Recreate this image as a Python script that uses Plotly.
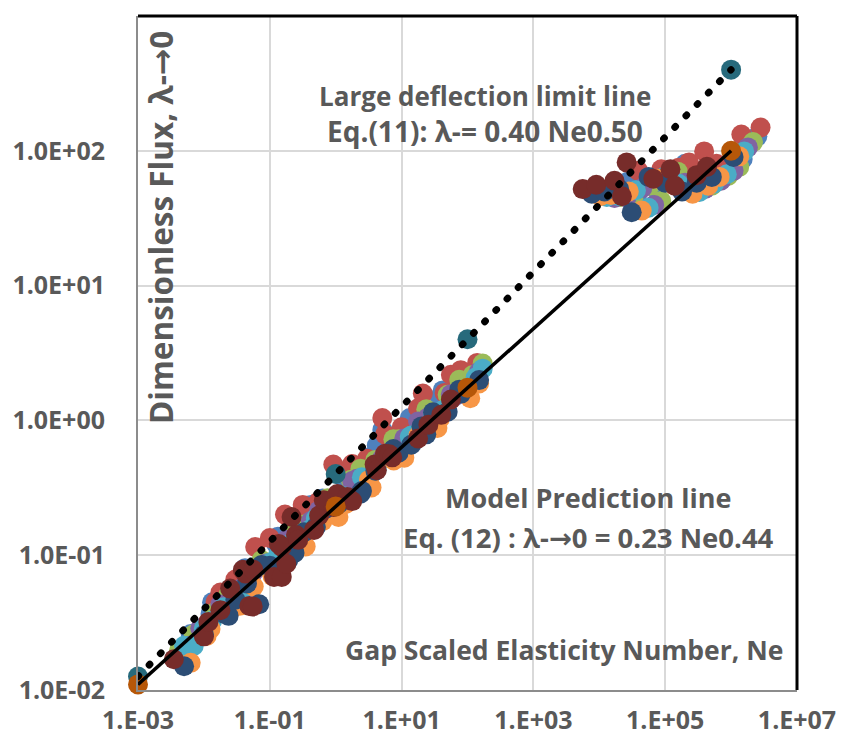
import plotly.graph_objects as go

# ---------------- data ----------------
blue_x = [6.3e-3, 1.26e-2, 1.33e-2, 2.5e-2, 4.2e-2, 5.7e-2, 0.126, 0.133, 0.28, 0.42, 0.63, 1.33, 1.4, 3.2, 4.2,
          5.1, 7.6, 13.3, 18, 38, 42, 100, 150,
          2.7e4, 4e4, 7.3e4, 1.1e5, 2.0e5, 3.5e5, 6.5e5, 1.1e6, 1.5e6, 2.5e6]
blue_y = [0.026, 0.0367, 0.0447, 0.0546, 0.080, 0.0814, 0.120, 0.137, 0.177, 0.236, 0.263, 0.378, 0.359, 0.533,
          0.651, 0.85, 0.728, 1.04, 1.02, 1.48, 1.67, 2.19, 2.51,
          59, 50, 52, 67, 80, 64, 62, 75, 87, 128]

red_x = [1.5e-2, 1.78e-2, 3e-2, 6e-2, 0.1, 0.17, 0.3, 0.316, 0.55, 0.92, 1.5, 1.78, 3, 5.1, 5.6, 10, 17.8, 21,
         45, 56, 79, 140,
         3.9e4, 8.7e4, 1.6e5, 2.3e5, 3.9e5, 6e5, 1.43e6, 2.8e6]
red_y = [0.045, 0.0528, 0.066, 0.115, 0.134, 0.20, 0.20, 0.236, 0.25, 0.47, 0.41, 0.474, 0.52, 1.04, 0.787, 0.89,
         1.23, 1.58, 1.6, 2.18, 2.36, 2.67,
         71, 73, 75, 82, 99, 80, 132, 149]

green_x = [4.2e-3, 7e-3, 1.5e-2, 2.37e-2, 3e-2, 7e-2, 7.5e-2, 0.15, 0.237, 0.33, 0.75, 0.75, 1.7, 2.37, 4, 7.5, 9,
           20, 23.7, 50, 75, 120, 170,
           2.1e4, 3.3e4, 5.8e4, 8.7e4, 1.55e5, 2.6e5, 5.1e5, 9e5, 1.33e6, 2.15e6]
green_y = [0.0197, 0.0259, 0.038, 0.0511, 0.0541, 0.0821, 0.092, 0.120, 0.159, 0.169, 0.254, 0.264, 0.363, 0.438,
           0.509, 0.725, 0.726, 0.988, 1.21, 1.55, 2.0, 2.17, 2.64,
           45.5, 45, 55, 42.5, 70, 60, 55, 65, 76, 116]

purple_x = [5.6e-3, 8.8e-3, 1.78e-2, 1.9e-2, 3.8e-2, 5.6e-2, 8.8e-2, 0.178, 0.19, 0.42, 0.56, 0.95, 1.78, 2.1, 5,
            5.6, 11, 17.8, 25, 56, 63, 150,
            1.7e4, 2.6e4, 4.5e4, 6.8e4, 1.2e5, 2e5, 4.0e5, 7e5, 1.09e6, 1.8e6]
purple_y = [0.0212, 0.0287, 0.043, 0.0421, 0.0572, 0.0746, 0.0869, 0.13, 0.121, 0.179, 0.215, 0.248, 0.355, 0.369,
            0.516, 0.566, 0.737, 0.98, 1.05, 1.56, 1.50, 2.30,
            44.7, 45, 53, 39.7, 66, 58, 52, 60, 71, 106]

aqua_x = [5e-3, 7e-3, 1e-2, 1.33e-2, 2e-2, 4.2e-2, 4.5e-2, 0.1, 0.133, 0.22, 0.42, 0.5, 1.1, 1.33, 2.5, 4.2, 6,
          13.3, 14, 30, 42, 80, 133, 170,
          1.3e4, 2e4, 3.6e4, 5.6e4, 9.6e4, 1.6e5, 3.3e5, 5.5e5, 8.6e5, 1.58e6]
aqua_y = [0.0213, 0.0212, 0.0287, 0.0327, 0.0411, 0.0572, 0.0588, 0.0878, 0.0995, 0.124, 0.157, 0.187, 0.252,
          0.274, 0.378, 0.434, 0.531, 0.755, 0.772, 1.13, 1.19, 1.66, 2.08, 2.42,
          45.5, 46, 51, 37.8, 64, 57, 49.5, 57, 67, 99]

orange_x = [6.3e-3, 1.1e-2, 1.26e-2, 2.5e-2, 3.5e-2, 5.7e-2, 0.11, 0.126, 0.28, 0.35, 0.63, 1.1, 1.4, 3.2, 3.5,
            7.6, 11, 18, 35, 38, 100, 110, 150,
            1.04e4, 1.5e4, 2.8e4, 4.4e4, 7.6e4, 1.3e5, 2.6e5, 4.5e5, 6.7e5, 1.33e6]
orange_y = [0.0159, 0.0252, 0.0284, 0.0387, 0.0421, 0.0586, 0.0698, 0.0786, 0.118, 0.116, 0.179, 0.192, 0.239,
            0.362, 0.318, 0.504, 0.529, 0.773, 0.88, 1.03, 1.66, 1.46, 1.88,
            46, 47, 50, 36, 62, 56, 48, 55, 64, 91]

navy_x = [5e-3, 1e-2, 2e-2, 2.37e-2, 3e-2, 4.5e-2, 6.9e-2, 7.5e-2, 0.1, 0.19, 0.237, 0.25, 0.33, 0.5, 0.7, 0.75,
          1.1, 1.7, 2.37, 2.5, 4, 7.5, 9, 14, 20, 23.7, 30, 50, 75, 80, 150,
          7.7e3, 1.2e4, 2.0e4, 3.1e4, 5.6e4, 1.0e5, 1.8e5, 3.0e5, 5.1e5, 1.09e6]
navy_y = [0.0150, 0.0257, 0.0370, 0.0355, 0.0467, 0.0617, 0.0433, 0.0846, 0.0836, 0.0913, 0.104, 0.13, 0.148,
          0.162, 0.22, 0.233, 0.240, 0.261, 0.286, 0.30, 0.424, 0.614, 0.575, 0.66, 0.902, 0.788, 1.15, 1.16,
          1.69, 1.58, 1.99,
          48, 50, 52, 35, 64, 58, 50, 58, 64, 90]

maroon_x = [3.5e-3, 1e-2, 1.17e-2, 1.78e-2, 2.5e-2, 3.9e-2, 4.3e-2, 4.9e-2, 5.5e-2, 5.6e-2, 0.116, 0.137, 0.152,
            0.152, 0.178, 0.214, 0.25, 0.27, 0.47, 0.56, 0.66, 0.93, 1.06, 1.5, 1.78, 3.9, 4.2, 5.6, 6.5, 7.2,
            17.8, 25.5, 40, 56,
            5.6e3, 9e3, 1.7e4, 2.2e4, 2.6e4, 6.6e4, 1.2e5, 1.4e5, 3e5, 4.3e5]
maroon_y = [0.0169, 0.025, 0.032, 0.0391, 0.0565, 0.078, 0.073, 0.042, 0.0417, 0.0779, 0.069, 0.121, 0.069,
            0.115, 0.0864, 0.192, 0.141, 0.13, 0.154, 0.197, 0.256, 0.228, 0.284, 0.27, 0.252, 0.47, 0.427, 0.566,
            0.56, 0.532, 0.735, 0.93, 1.10, 1.43,
            52, 56, 60, 46, 82, 62, 73, 55, 66, 76]

line_x = [1e-3, 1, 100, 1e6]
limit_y = [0.0126, 0.4, 4, 400]      # Eq.(11) large deflection limit
model_y = [0.011, 0.23, 1.75, 100]   # Eq.(12) model prediction

x_ticks = [1e-3, 1e-1, 1e1, 1e3, 1e5, 1e7]
x_ticktext = ["1.E-03", "1.E-01", "1.E+01", "1.E+03", "1.E+05", "1.E+07"]
y_ticks = [1e-2, 1e-1, 1, 1e1, 1e2, 1e3]
y_ticktext = ["1.0E-02", "1.0E-01", "1.0E+00", "1.0E+01", "1.0E+02", "1.0E+03"]

series = [
    (blue_x, blue_y, "#4F81BD"),
    (red_x, red_y, "#C0504D"),
    (green_x, green_y, "#9BBB59"),
    (purple_x, purple_y, "#8064A2"),
    (aqua_x, aqua_y, "#4BACC6"),
    (orange_x, orange_y, "#F79646"),
    (navy_x, navy_y, "#2C4D75"),
    (maroon_x, maroon_y, "#772C2A"),
]

FONT = "Open Sans"
GREY = "#595959"
MS = 20
ARROW = '<span style="font-family:DejaVu Sans">→</span>'

fig = go.Figure()
for xs, ys, col in series:
    fig.add_trace(go.Scatter(x=xs, y=ys, mode="markers", cliponaxis=False,
                             marker=dict(size=MS, color=col, line=dict(width=0)),
                             showlegend=False, hoverinfo="x+y"))

fig.add_trace(go.Scatter(x=line_x, y=limit_y, mode="markers", cliponaxis=False,
                         marker=dict(size=MS, color="#276A7C", line=dict(width=0)), showlegend=False))
fig.add_trace(go.Scatter(x=line_x, y=model_y, mode="markers", cliponaxis=False,
                         marker=dict(size=MS, color="#B65708", line=dict(width=0)), showlegend=False))
fig.add_trace(go.Scatter(x=line_x, y=limit_y, mode="lines", cliponaxis=False,
                         line=dict(color="black", width=7, dash="1px,15px"), showlegend=False))
fig.add_trace(go.Scatter(x=line_x, y=model_y, mode="lines", cliponaxis=False,
                         line=dict(color="black", width=3.5), showlegend=False))

axis_common = dict(type="log", showgrid=True, gridcolor="#d9d9d9", gridwidth=1.5,
                   zeroline=False, showline=True, linecolor="#8c8c8c", linewidth=2,
                   ticks="", tickfont=dict(family=FONT, size=25, color=GREY, weight="bold"))

fig.update_xaxes(range=[-3, 7], tickvals=x_ticks, ticktext=x_ticktext,
                 ticklabelstandoff=7, **axis_common)
fig.update_yaxes(range=[-2, 3], tickvals=y_ticks, ticktext=y_ticktext,
                 ticklabelstandoff=26, **axis_common)

def ann(text, x, y, size, xanchor="center", angle=0):
    return dict(text=text, x=x, y=y, xref="paper", yref="paper", showarrow=False,
                xanchor=xanchor, yanchor="middle", textangle=angle,
                font=dict(family=FONT, size=size, color=GREY, weight="bold"))

fig.update_layout(
    width=848, height=748,
    margin=dict(l=133, r=41, t=16, b=54),
    paper_bgcolor="white", plot_bgcolor="white",
    showlegend=False,
    shapes=[
        dict(type="line", xref="paper", yref="paper", x0=0, x1=1, y0=1, y1=1,
             line=dict(color="black", width=3), layer="above"),
        dict(type="line", xref="paper", yref="paper", x0=1, x1=1, y0=0, y1=1,
             line=dict(color="black", width=3), layer="above"),
    ],
    annotations=[
        ann("Dimensionless Flux, λ-" + ARROW + "0", 0.034, 0.686, 31.5, angle=-90),
        ann("Gap Scaled Elasticity Number, Ne", 0.982, 0.059, 26.5, xanchor="right"),
        ann("Large deflection limit line", 0.527, 0.882, 26),
        ann("Eq.(11): λ-= 0.40 Ne0.50", 0.527, 0.830, 28),
        ann("Model Prediction line", 0.683, 0.286, 27),
        ann("Eq. (12) : λ-" + ARROW + "0 = 0.23 Ne0.44", 0.684, 0.226, 27.5),
    ],
)

post = """
var gd = document.getElementById('{plot_id}');
function rc(){
  gd.querySelectorAll('path.js-line').forEach(function(p){
    var d = p.style.strokeDasharray || p.getAttribute('stroke-dasharray') || '';
    if (d.indexOf('15') >= 0) { p.style.strokeLinecap = 'round'; }
  });
}
rc();
if (gd.on) { gd.on('plotly_afterplot', rc); }
"""

fig.write_html("out.html", post_script=post)
